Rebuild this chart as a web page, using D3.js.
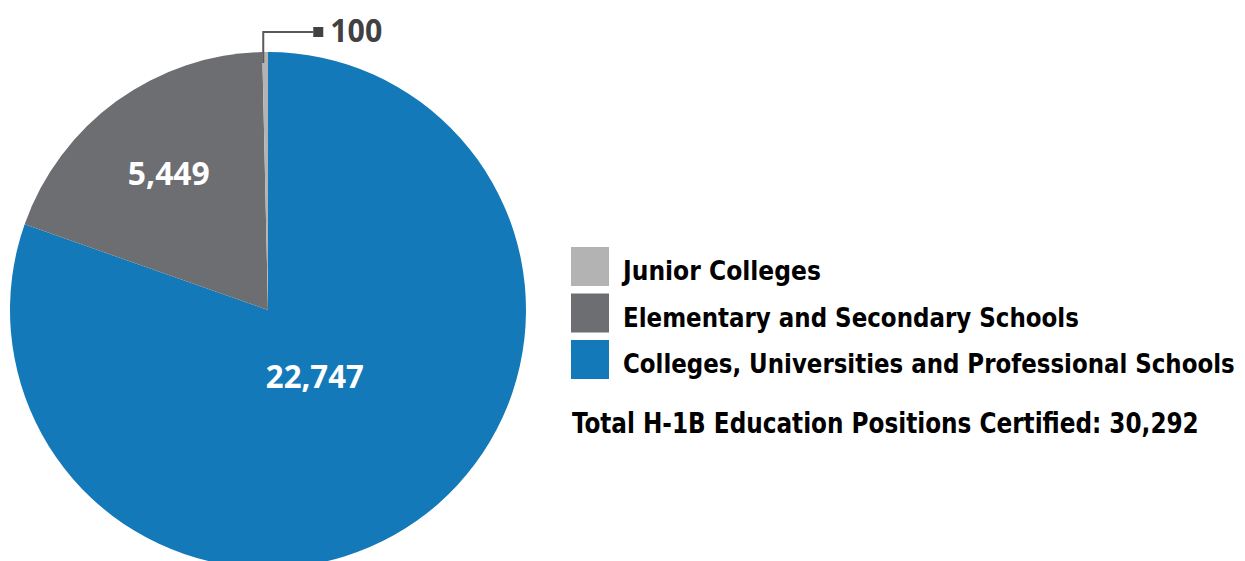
<!DOCTYPE html>
<html>
<head>
<meta charset="utf-8">
<script src="https://cdn.jsdelivr.net/npm/d3@7"></script>
<style>
  html, body { margin: 0; padding: 0; background: #fff; }
  svg { display: block; }
</style>
</head>
<body>
<svg id="chart" width="1245" height="561"></svg>
<script>
const categories = ["Colleges, Universities and Professional Schools", "Elementary and Secondary Schools", "Junior Colleges"];
const values = [22747, 5449, 100];
const valueLabels = ["22,747", "5,449", "100"];
const colors = ["#1379b8", "#6d6e71", "#b3b3b3"];
const legendOrder = [2, 1, 0];
const totalLabel = "Total H-1B Education Positions Certified: 30,292";

const svg = d3.select("#chart");
const cx = 268, cy = 310, R = 258;

// place text at (x,y) and squeeze horizontally to the target width
function fitText(sel, x, y, width, anchor) {
  const natural = sel.node().getComputedTextLength();
  const s = Math.min(1.2, width / natural);
  sel.attr("x", null).attr("y", null)
     .attr("text-anchor", anchor || "start")
     .attr("transform", `translate(${x},${y}) scale(${s},1)`);
  return sel;
}

const pie = d3.pie().sort(null).value(d => d.v);
const data = pie(values.map((v, i) => ({ v, i })));
const arc = d3.arc().innerRadius(0).outerRadius(R);

const g = svg.append("g").attr("transform", `translate(${cx},${cy})`);
g.selectAll("path").data(data).join("path")
  .attr("d", arc)
  .attr("fill", d => colors[d.data.i]);

// inner labels
const labelR = [81, 169];
const labelFont = "'Open Sans', 'DejaVu Sans', sans-serif";
[0, 1].forEach(k => {
  const d = data[k];
  const a = (d.startAngle + d.endAngle) / 2;
  const x = Math.sin(a) * labelR[k];
  const y = -Math.cos(a) * labelR[k];
  const t = g.append("text")
    .attr("fill", "#fff")
    .attr("font-family", labelFont)
    .attr("font-weight", 700)
    .attr("font-size", 32)
    .text(valueLabels[k]);
  fitText(t, x, y + 12, k === 0 ? 98 : 82, "middle");
});

// leader for small slice
{
  const d = data[2];
  const a = (d.startAngle + d.endAngle) / 2;
  const r0 = R - 11;
  const x0 = Math.sin(a) * r0 - 2;
  const y0 = -Math.cos(a) * r0;
  const yTop = -R - 20;
  const xEnd = x0 + 50;
  g.append("path")
    .attr("d", `M${x0},${y0} V${yTop} H${xEnd}`)
    .attr("fill", "none")
    .attr("stroke", "#58595b")
    .attr("stroke-width", 2);
  g.append("rect")
    .attr("x", xEnd).attr("y", yTop - 5)
    .attr("width", 10).attr("height", 10)
    .attr("fill", "#414042");
  const t = g.append("text")
    .attr("fill", "#414042")
    .attr("font-family", labelFont)
    .attr("font-weight", 700)
    .attr("font-size", 32)
    .text(valueLabels[2]);
  fitText(t, xEnd + 17, yTop + 10, 52, "start");
}

// legend
const legFont = "'Liberation Sans Narrow', 'DejaVu Sans Condensed', 'Roboto', sans-serif";
const legWidths = { 2: 198, 1: 456, 0: 612 };
const leg = svg.append("g");
legendOrder.forEach((idx, j) => {
  const y = 247 + j * 46.5;
  leg.append("rect")
    .attr("x", 571).attr("y", y)
    .attr("width", 38).attr("height", 39)
    .attr("fill", colors[idx]);
  const t = leg.append("text")
    .attr("fill", "#000")
    .attr("font-family", legFont)
    .attr("font-weight", 700)
    .attr("font-size", 26)
    .text(categories[idx]);
  fitText(t, 623, y + 33, legWidths[idx], "start");
});

const tt = svg.append("text")
  .attr("fill", "#000")
  .attr("font-family", legFont)
  .attr("font-weight", 700)
  .attr("font-size", 28)
  .text(totalLabel);
fitText(tt, 572, 433, 627, "start");
</script>
</body>
</html>
